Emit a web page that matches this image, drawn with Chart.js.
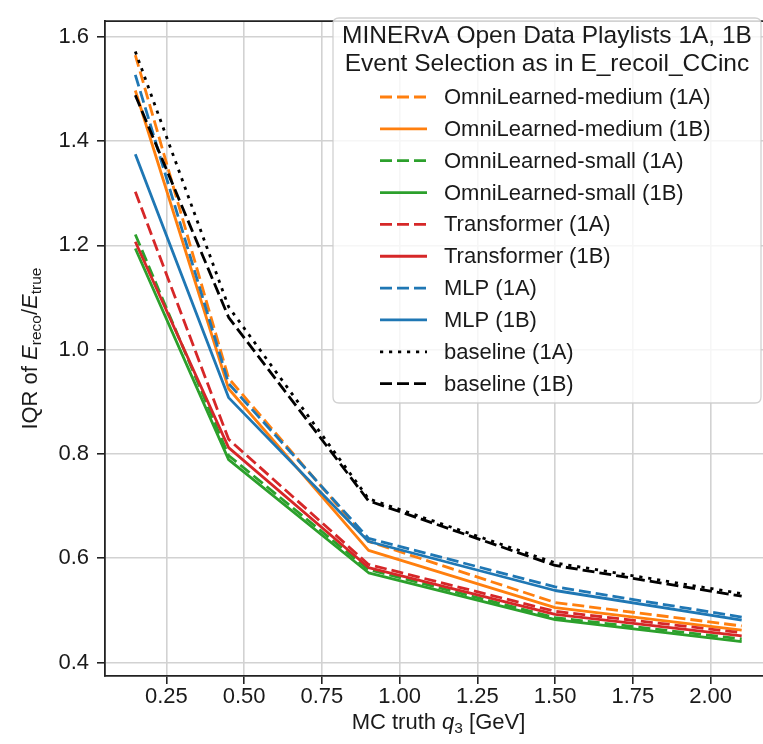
<!DOCTYPE html>
<html>
<head>
<meta charset="utf-8">
<script src="https://cdn.jsdelivr.net/npm/chart.js@4.4.1/dist/chart.umd.min.js"></script>
<style>
  html, body { margin: 0; padding: 0; background: #ffffff; overflow: hidden; }
  canvas { display: block; }
</style>
</head>
<body>
<canvas id="c" width="763" height="744"></canvas>
<script>
// Momentum-transfer bins (GeV)
const q3 = [0.15, 0.45, 0.90, 1.50, 2.10];

// IQR of E_reco / E_true per model and playlist
const omniMedium1A  = [1.565, 0.945, 0.632, 0.515, 0.470];
const omniMedium1B  = [1.497, 0.925, 0.615, 0.505, 0.462];
const omniSmall1A   = [1.221, 0.797, 0.578, 0.486, 0.445];
const omniSmall1B   = [1.194, 0.789, 0.572, 0.482, 0.440];
const transformer1A = [1.303, 0.828, 0.588, 0.498, 0.457];
const transformer1B = [1.207, 0.812, 0.582, 0.492, 0.451];
const mlp1A         = [1.527, 0.935, 0.638, 0.545, 0.487];
const mlp1B         = [1.375, 0.908, 0.632, 0.538, 0.481];
const baseline1A    = [1.572, 1.082, 0.714, 0.591, 0.532];
const baseline1B    = [1.488, 1.062, 0.710, 0.586, 0.527];

const seriesLabels = [
  'OmniLearned-medium (1A)', 'OmniLearned-medium (1B)',
  'OmniLearned-small (1A)', 'OmniLearned-small (1B)',
  'Transformer (1A)', 'Transformer (1B)',
  'MLP (1A)', 'MLP (1B)',
  'baseline (1A)', 'baseline (1B)'
];
const xTicks = [0.25, 0.50, 0.75, 1.00, 1.25, 1.50, 1.75, 2.00];
const yTicks = [0.4, 0.6, 0.8, 1.0, 1.2, 1.4, 1.6];
const legendTitle = ['MINERvA Open Data Playlists 1A, 1B', 'Event Selection as in E_recoil_CCinc'];

const FONT = '"Liberation Sans", Arial, Helvetica, sans-serif';
const TEXT = '#1a1a1a';
const ORANGE = '#ff7f0e', GREEN = '#2ca02c', RED = '#d62728', BLUE = '#1f77b4', BLACK = '#000000';
const DASHED = [12, 5];
const DOTTED = [3.2, 5.8];
const SOLID = [];
const LINE_W = 2.8;

const series = [
  { label: seriesLabels[0], values: omniMedium1A,  color: ORANGE, dash: DASHED },
  { label: seriesLabels[1], values: omniMedium1B,  color: ORANGE, dash: SOLID },
  { label: seriesLabels[2], values: omniSmall1A,   color: GREEN,  dash: DASHED },
  { label: seriesLabels[3], values: omniSmall1B,   color: GREEN,  dash: SOLID },
  { label: seriesLabels[4], values: transformer1A, color: RED,    dash: DASHED },
  { label: seriesLabels[5], values: transformer1B, color: RED,    dash: SOLID },
  { label: seriesLabels[6], values: mlp1A,         color: BLUE,   dash: DASHED },
  { label: seriesLabels[7], values: mlp1B,         color: BLUE,   dash: SOLID },
  { label: seriesLabels[8], values: baseline1A,    color: BLACK,  dash: DOTTED },
  { label: seriesLabels[9], values: baseline1B,    color: BLACK,  dash: DASHED }
];

const datasets = series.map((s, i) => ({
  label: s.label,
  data: q3.map((x, j) => ({ x: x, y: s.values[j] })),
  borderColor: s.color,
  backgroundColor: s.color,
  borderWidth: LINE_W,
  borderDash: s.dash,
  borderCapStyle: 'butt',
  borderJoinStyle: 'round',
  pointRadius: 0,
  pointHoverRadius: 0,
  tension: 0,
  fill: false,
  order: series.length - i   // later series are painted on top
}));

// draws a run of text pieces (normal / italic / subscript) starting at x
function drawPieces(ctx, pieces, x, y) {
  let cx = x;
  for (const p of pieces) {
    ctx.font = p.font;
    ctx.fillText(p.t, cx, y + (p.dy || 0));
    cx += ctx.measureText(p.t).width;
  }
}
function piecesWidth(ctx, pieces) {
  let w = 0;
  for (const p of pieces) { ctx.font = p.font; w += ctx.measureText(p.t).width; }
  return w;
}

const frameAndLabels = {
  id: 'frameAndLabels',
  afterDatasetsDraw(chart) {
    const { ctx, chartArea } = chart;
    ctx.save();
    ctx.strokeStyle = '#222222';
    ctx.lineWidth = 1.8;
    ctx.beginPath();
    ctx.moveTo(chartArea.left, chartArea.top);
    ctx.lineTo(chartArea.right, chartArea.top);
    ctx.stroke();
    ctx.restore();
  },
  afterDraw(chart) {
    const { ctx, chartArea } = chart;
    ctx.save();
    ctx.fillStyle = TEXT;
    ctx.textBaseline = 'alphabetic';
    ctx.textAlign = 'left';

    // x axis title: MC truth q_3 [GeV]
    const big = `22px ${FONT}`, ital = `italic 22px ${FONT}`, sub = `15.5px ${FONT}`;
    const xPieces = [
      { t: 'MC truth ', font: big },
      { t: 'q', font: ital },
      { t: '3', font: sub, dy: 4 },
      { t: ' [GeV]', font: big }
    ];
    const xCenter = (chartArea.left + 772) / 2;
    const xw = piecesWidth(ctx, xPieces);
    drawPieces(ctx, xPieces, xCenter - xw / 2, 729);

    // y axis title: IQR of E_reco / E_true
    const yPieces = [
      { t: 'IQR of ', font: big },
      { t: 'E', font: ital },
      { t: 'reco', font: sub, dy: 4 },
      { t: '/', font: big },
      { t: 'E', font: ital },
      { t: 'true', font: sub, dy: 4 }
    ];
    const yw = piecesWidth(ctx, yPieces);
    ctx.translate(37, (chartArea.top + chartArea.bottom) / 2);
    ctx.rotate(-Math.PI / 2);
    drawPieces(ctx, yPieces, -yw / 2, 0);
    ctx.restore();

    // legend box
    ctx.save();
    const x0 = 333, y0 = 18, x1 = 761, y1 = 403, r = 6;
    ctx.beginPath();
    ctx.moveTo(x0 + r, y0);
    ctx.lineTo(x1 - r, y0); ctx.quadraticCurveTo(x1, y0, x1, y0 + r);
    ctx.lineTo(x1, y1 - r); ctx.quadraticCurveTo(x1, y1, x1 - r, y1);
    ctx.lineTo(x0 + r, y1); ctx.quadraticCurveTo(x0, y1, x0, y1 - r);
    ctx.lineTo(x0, y0 + r); ctx.quadraticCurveTo(x0, y0, x0 + r, y0);
    ctx.closePath();
    ctx.fillStyle = 'rgba(255,255,255,0.8)';
    ctx.fill();
    ctx.strokeStyle = 'rgba(204,204,204,0.9)';
    ctx.lineWidth = 1.3;
    ctx.stroke();

    ctx.fillStyle = TEXT;
    ctx.textAlign = 'center';
    ctx.textBaseline = 'middle';
    ctx.font = `24.5px ${FONT}`;
    ctx.fillText(legendTitle[0], 547, 36);
    ctx.fillText(legendTitle[1], 547, 64);

    ctx.textAlign = 'left';
    ctx.font = `22px ${FONT}`;
    series.forEach((s, i) => {
      const y = 97 + i * 31.85;
      ctx.strokeStyle = s.color;
      ctx.lineWidth = LINE_W;
      ctx.lineCap = 'butt';
      ctx.setLineDash(s.dash);
      ctx.beginPath();
      ctx.moveTo(380, y);
      ctx.lineTo(427, y);
      ctx.stroke();
      ctx.setLineDash([]);
      ctx.fillText(s.label, 444, y + 1);
    });
    ctx.restore();
  }
};

new Chart(document.getElementById('c'), {
  type: 'line',
  data: { datasets: datasets },
  plugins: [frameAndLabels],
  options: {
    responsive: false,
    animation: false,
    devicePixelRatio: 1,
    layout: { padding: { top: 6, right: 0, bottom: 0, left: 0 } },
    plugins: { legend: { display: false }, tooltip: { enabled: false } },
    scales: {
      x: {
        type: 'linear',
        min: 0.0525,
        max: 2.1685,
        afterBuildTicks: (scale) => { scale.ticks = xTicks.map(v => ({ value: v })); },
        afterFit: (scale) => { scale.height = 68; },
        ticks: {
          color: TEXT,
          font: { family: FONT, size: 22 },
          padding: 0,
          maxRotation: 0,
          autoSkip: false,
          callback: (v) => Number(v).toFixed(2)
        },
        grid: {
          color: '#d2d2d2', lineWidth: 1.6,
          drawTicks: true, tickLength: 8, tickColor: '#222222', tickWidth: 1.6
        },
        border: { display: true, color: '#222222', width: 1.8 }
      },
      y: {
        type: 'linear',
        min: 0.374,
        max: 1.630,
        afterBuildTicks: (scale) => { scale.ticks = yTicks.map(v => ({ value: v })); },
        afterFit: (scale) => { scale.width = 105; },
        ticks: {
          color: TEXT,
          font: { family: FONT, size: 22 },
          padding: 8,
          autoSkip: false,
          callback: (v) => Number(v).toFixed(1)
        },
        grid: {
          color: '#d2d2d2', lineWidth: 1.6,
          drawTicks: true, tickLength: 8, tickColor: '#222222', tickWidth: 1.6
        },
        border: { display: true, color: '#222222', width: 1.8 }
      }
    }
  }
});
</script>
</body>
</html>
